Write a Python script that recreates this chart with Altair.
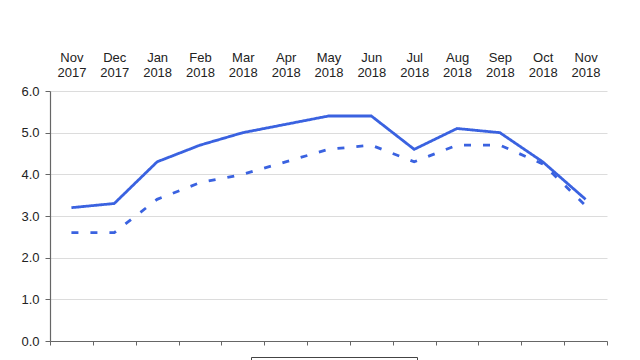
import json
import altair as alt
import pandas as pd

months = ["Nov 2017", "Dec 2017", "Jan 2018", "Feb 2018", "Mar 2018", "Apr 2018",
          "May 2018", "Jun 2018", "Jul 2018", "Aug 2018", "Sep 2018", "Oct 2018", "Nov 2018"]
series_names = ["Headline", "Core"]
solid_vals = [3.2, 3.3, 4.3, 4.7, 5.0, 5.2, 5.4, 5.4, 4.6, 5.1, 5.0, 4.3, 3.4]
dashed_vals = [2.6, 2.6, 3.4, 3.8, 4.0, 4.3, 4.6, 4.7, 4.3, 4.7, 4.7, 4.25, 3.25]
y_ticks = [0, 1, 2, 3, 4, 5, 6]

rows = []
for name, vals in zip(series_names, [solid_vals, dashed_vals]):
    for i, (m, v) in enumerate(zip(months, vals)):
        rows.append({"month": m, "idx": i, "series": name, "value": v})
df = pd.DataFrame(rows)

n = len(months)
FONT = "Liberation Sans"
BLUE = "#3a62e0"

label_expr = f"split({json.dumps(months)}[round(datum.value)], ' ')"

x_top = alt.X(
    "idx:Q",
    scale=alt.Scale(domain=[-0.5, n - 0.5], nice=False, zero=False),
    axis=alt.Axis(
        orient="top", values=list(range(n)), labelExpr=label_expr, title=None,
        domain=False, ticks=False, grid=False, labelPadding=27,
        labelFont=FONT, labelFontSize=13, labelColor="#222", labelLineHeight=15,
    ),
)

y_enc = alt.Y(
    "value:Q",
    scale=alt.Scale(domain=[0, 6], nice=False),
    axis=alt.Axis(
        values=y_ticks, format=".1f", title=None, grid=True, gridColor="#dcdcdc",
        domainColor="#666", tickColor="#666", tickSize=5, labelPadding=6,
        labelFont=FONT, labelFontSize=13, labelColor="#222",
    ),
)

lines = alt.Chart(df).mark_line(strokeWidth=2.8, color=BLUE).encode(
    x=x_top,
    y=y_enc,
    strokeDash=alt.StrokeDash(
        "series:N",
        sort=series_names,
        scale=alt.Scale(domain=series_names, range=[[1, 0], [7, 12]]),
        legend=alt.Legend(
            orient="none", legendX=201, legendY=266, direction="horizontal",
            title=None, strokeColor="#444", padding=6, symbolType="stroke",
            symbolStrokeWidth=2.8, symbolStrokeColor=BLUE, labelFont=FONT,
            labelFontSize=12, columnPadding=20, symbolSize=400,
        ),
    ),
    detail="series:N",
)

bottom_ticks = alt.Chart(df).mark_line(opacity=0).encode(
    x=alt.X(
        "idx:Q",
        axis=alt.Axis(
            orient="bottom", values=[i - 0.5 for i in range(n + 1)], labels=False,
            title=None, grid=False, domainColor="#666", tickColor="#666", tickSize=4,
        ),
    ),
    y=alt.Y("value:Q"),
)

chart = alt.layer(lines, bottom_ticks).resolve_axis(x="independent").properties(
    width=557, height=250, autosize=alt.AutoSizeParams(type="none"),
    padding={"left": 42, "top": 83, "right": 20, "bottom": 30},
).configure_view(stroke=None).configure_axis(domainWidth=1.2)

chart.save("out.html", embed_options={"renderer": "svg", "actions": False})
